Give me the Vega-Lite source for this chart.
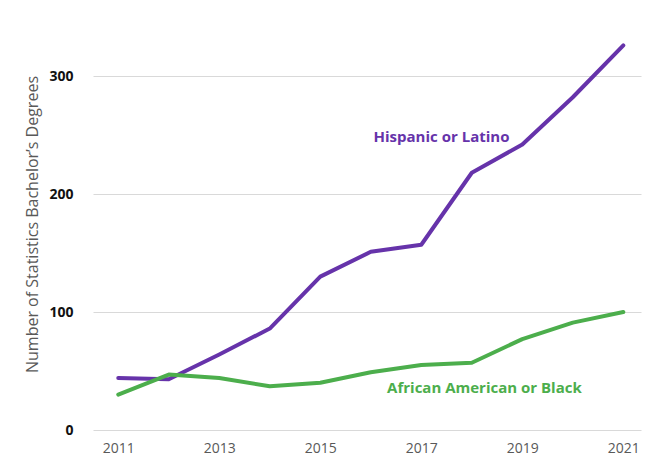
{
  "$schema": "https://vega.github.io/schema/vega-lite/v6.json",
  "width": 548,
  "height": 413,
  "autosize": {"type": "none"},
  "padding": {"left": 93, "top": 17, "right": 5, "bottom": 35},
  "background": "white",
  "config": {"view": {"stroke": null}, "font": "Open Sans"},
  "datasets": {
    "series": [
      {"year": 2011, "value": 44, "group": "Hispanic or Latino"},
      {"year": 2012, "value": 43, "group": "Hispanic or Latino"},
      {"year": 2013, "value": 64, "group": "Hispanic or Latino"},
      {"year": 2014, "value": 86, "group": "Hispanic or Latino"},
      {"year": 2015, "value": 130, "group": "Hispanic or Latino"},
      {"year": 2016, "value": 151, "group": "Hispanic or Latino"},
      {"year": 2017, "value": 157, "group": "Hispanic or Latino"},
      {"year": 2018, "value": 218, "group": "Hispanic or Latino"},
      {"year": 2019, "value": 242, "group": "Hispanic or Latino"},
      {"year": 2020, "value": 282, "group": "Hispanic or Latino"},
      {"year": 2021, "value": 326, "group": "Hispanic or Latino"},
      {"year": 2011, "value": 30, "group": "African American or Black"},
      {"year": 2012, "value": 47, "group": "African American or Black"},
      {"year": 2013, "value": 44, "group": "African American or Black"},
      {"year": 2014, "value": 37, "group": "African American or Black"},
      {"year": 2015, "value": 40, "group": "African American or Black"},
      {"year": 2016, "value": 49, "group": "African American or Black"},
      {"year": 2017, "value": 55, "group": "African American or Black"},
      {"year": 2018, "value": 57, "group": "African American or Black"},
      {"year": 2019, "value": 77, "group": "African American or Black"},
      {"year": 2020, "value": 91, "group": "African American or Black"},
      {"year": 2021, "value": 100, "group": "African American or Black"}
    ],
    "labels": [
      {"year": 2017.4, "value": 248, "group": "Hispanic or Latino"},
      {"year": 2018.25, "value": 36, "group": "African American or Black"}
    ]
  },
  "layer": [
    {
      "data": {"name": "series"},
      "mark": {"type": "line", "strokeWidth": 4, "strokeCap": "round", "strokeJoin": "round"},
      "encoding": {
        "x": {
          "field": "year", "type": "quantitative",
          "scale": {"domain": [2010.5, 2021.35], "nice": false, "zero": false},
          "axis": {
            "values": [2011, 2013, 2015, 2017, 2019, 2021], "format": "d",
            "title": null, "grid": false, "domain": false, "ticks": false,
            "labelFont": "Open Sans", "labelFontSize": 14, "labelColor": "#595959",
            "labelPadding": 11, "labelFlush": false
          }
        },
        "y": {
          "field": "value", "type": "quantitative",
          "scale": {"domain": [0, 350], "nice": false},
          "axis": {
            "values": [0, 100, 200, 300],
            "title": "Number of Statistics Bachelor\u2019s Degrees",
            "titleFont": "Open Sans", "titleFontSize": 16, "titleFontWeight": "normal",
            "titleColor": "#595959", "titleX": -61, "titleY": 207,
            "titleAngle": -90, "titleAlign": "center", "titleBaseline": "middle",
            "grid": true, "gridColor": "#d9d9d9", "gridWidth": 1,
            "domain": false, "ticks": false,
            "labelFont": "Open Sans", "labelFontSize": 14, "labelFontWeight": "bold",
            "labelColor": "#111111", "labelPadding": 20
          }
        },
        "color": {
          "field": "group", "type": "nominal",
          "scale": {"domain": ["Hispanic or Latino", "African American or Black"], "range": ["#6633aa", "#4cae4c"]},
          "legend": null
        }
      }
    },
    {
      "data": {"name": "labels"},
      "mark": {"type": "text", "font": "Open Sans", "fontSize": 15, "fontWeight": "bold", "align": "center", "baseline": "middle"},
      "encoding": {
        "x": {"field": "year", "type": "quantitative"},
        "y": {"field": "value", "type": "quantitative"},
        "text": {"field": "group", "type": "nominal"},
        "color": {"field": "group", "type": "nominal", "legend": null}
      }
    }
  ]
}
